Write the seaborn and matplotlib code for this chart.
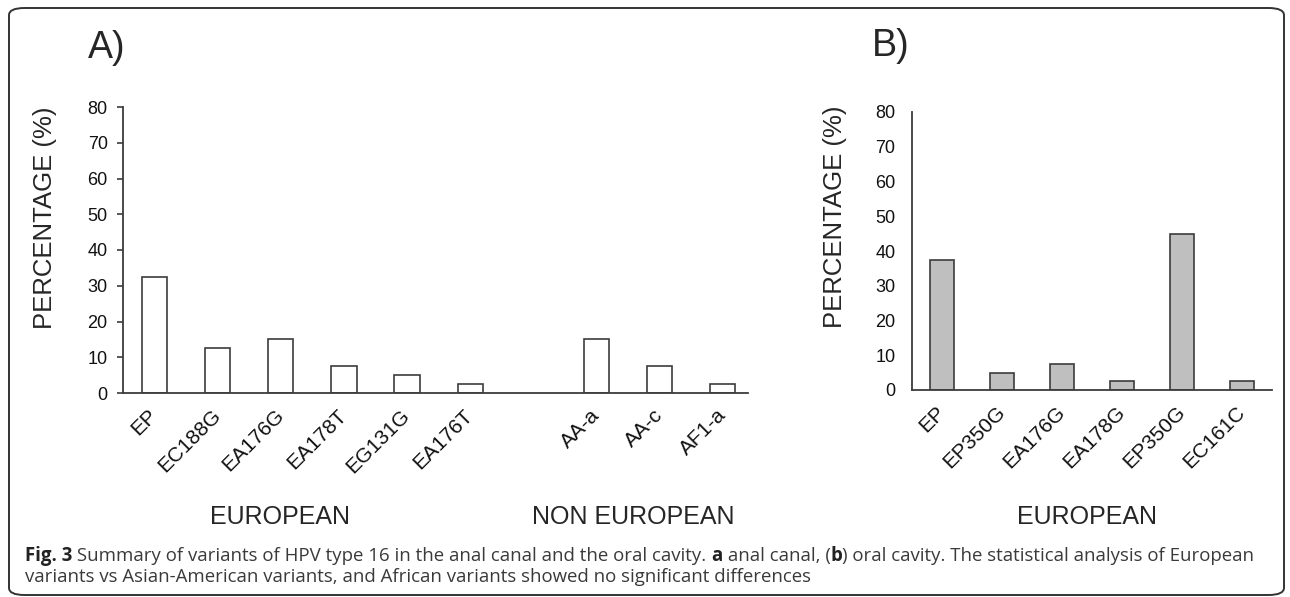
import numpy as np
import pandas as pd
import matplotlib
matplotlib.use("Agg")
import matplotlib.pyplot as plt
import seaborn as sns
from matplotlib.patches import FancyBboxPatch

# panel A: anal canal
a_european = ["EP", "EC188G", "EA176G", "EA178T", "EG131G", "EA176T"]
a_european_pct = [32.5, 12.5, 15.0, 7.5, 5.0, 2.5]
a_non_european = ["AA-a", "AA-c", "AF1-a"]
a_non_european_pct = [15.0, 7.5, 2.5]

# panel B: oral cavity
b_european = ["EP", "EP350G", "EA176G", "EA178G", "EP350G", "EC161C"]
b_european_pct = [37.5, 5.0, 7.5, 2.5, 45.0, 2.5]

y_ticks = [0, 10, 20, 30, 40, 50, 60, 70, 80]

caption_1 = [("Fig. 3", "bold"),
             (" Summary of variants of HPV type 16 in the anal canal and the oral cavity. ", "normal"),
             ("a", "bold"), (" anal canal, (", "normal"), ("b", "bold"),
             (") oral cavity. The statistical analysis of European", "normal")]
caption_2 = "variants vs Asian-American variants, and African variants showed no significant differences"

sns.set_style("white")
plt.rcParams["font.family"] = ["Liberation Sans", "DejaVu Sans"]

W, H = 1290, 597
fig = plt.figure(figsize=(W / 100, H / 100), dpi=100)

def fx(px):
    return px / W

def fy(py):
    return 1 - py / H

edge = "#3c3c3c"

# ---- panel A ----
a_labels = a_european + a_non_european
a_keys = [f"a{i}" for i in range(len(a_labels))]
df_a = pd.DataFrame({"key": a_keys, "pct": a_european_pct + a_non_european_pct})
a_order = a_keys[:len(a_european)] + ["gap"] + a_keys[len(a_european):]
a_ticklabels = a_european + [""] + a_non_european

ax_a = fig.add_axes([fx(123), fy(393), 625 / W, (393 - 107) / H])
sns.barplot(data=df_a, x="key", y="pct", order=a_order, color="white",
            saturation=1, edgecolor=edge, linewidth=1.2, width=0.4, ax=ax_a)

# ---- panel B ----
b_keys = [f"b{i}" for i in range(len(b_european))]
df_b = pd.DataFrame({"key": b_keys, "pct": b_european_pct})
ax_b = fig.add_axes([fx(912), fy(390), 360 / W, (390 - 112) / H])
sns.barplot(data=df_b, x="key", y="pct", order=b_keys, color="#bfbfbf",
            saturation=1, edgecolor=edge, linewidth=1.2, width=0.41, ax=ax_b)

for ax, labels, tlen, tpad in [(ax_a, a_ticklabels, 4, 7), (ax_b, b_european, 0, 12)]:
    ax.set_ylim(0, 80)
    ax.set_yticks(y_ticks)
    ax.set_yticklabels([str(t) for t in y_ticks], fontsize=13, color="#111111")
    ax.set_xticks(range(len(labels)))
    ax.set_xticklabels(labels, rotation=45, ha="right", va="center",
                       rotation_mode="anchor", fontsize=15, color="#111111")
    ax.tick_params(axis="x", length=0, pad=14)
    ax.tick_params(axis="y", length=tlen, width=1.2, color=edge, pad=tpad, left=True)
    ax.set_xlabel("")
    ax.set_ylabel("")
    for s in ["top", "right"]:
        ax.spines[s].set_visible(False)
    for s in ["left", "bottom"]:
        ax.spines[s].set_color(edge)
        ax.spines[s].set_linewidth(1.3)
    ax.patch.set_alpha(0)
ax_a.set_xlim(-0.5, 9.4)
ax_b.set_xlim(-0.5, 5.5)

# axis titles and panel letters
fig.text(fx(45), fy(218), "PERCENTAGE (%)", rotation=90, ha="center", va="center", fontsize=18.5)
fig.text(fx(835), fy(217), "PERCENTAGE (%)", rotation=90, ha="center", va="center", fontsize=18.5)
fig.text(fx(88), fy(58), "A)", ha="left", va="baseline", fontsize=27)
fig.text(fx(872), fy(56), "B)", ha="left", va="baseline", fontsize=27)

fig.text(fx(210), fy(524), "EUROPEAN", ha="left", va="baseline", fontsize=18)
fig.text(fx(532), fy(524), "NON EUROPEAN", ha="left", va="baseline", fontsize=18)
fig.text(fx(1017), fy(524), "EUROPEAN", ha="left", va="baseline", fontsize=18)

# caption, with bold pieces placed one after another
renderer = fig.canvas.get_renderer()
cap_font = ["Open Sans", "DejaVu Sans"]

def line_width(pieces, size):
    total = 0
    for txt, wt in pieces:
        t = fig.text(0, 0, txt, fontsize=size, fontweight=wt, family=cap_font)
        total += t.get_window_extent(renderer).width
        t.remove()
    return total

size = 12.0
size = size * (1250 - 25) / line_width(caption_1, size)

x = 25
for txt, wt in caption_1:
    t = fig.text(fx(x), fy(561), txt, fontsize=size, fontweight=wt, family=cap_font,
                 color="#222222" if wt == "bold" else "#3a3a3a", va="baseline", ha="left")
    x += t.get_window_extent(renderer).width
fig.text(fx(25), fy(582), caption_2, fontsize=size, family=cap_font,
         color="#3a3a3a", va="baseline", ha="left")

# rounded frame
frame = FancyBboxPatch((fx(9), fy(595)), fx(1284) - fx(9), fy(8) - fy(595),
                       boxstyle="round,pad=0,rounding_size=0.012",
                       transform=fig.transFigure, fill=False,
                       edgecolor="#333333", linewidth=1.4)
fig.patches.append(frame)

fig.savefig("out.png", dpi=100)
